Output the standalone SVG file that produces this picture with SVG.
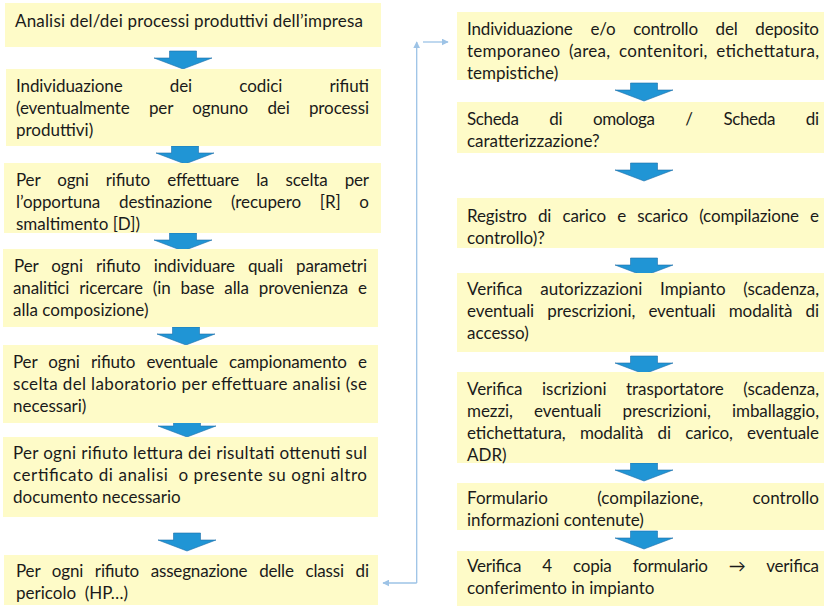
<svg xmlns="http://www.w3.org/2000/svg" width="824" height="606" viewBox="0 0 824 606">
<style>
.box{fill:#FEFBC8;stroke:none}
text{font-family:Lato,"Open Sans","Liberation Sans",sans-serif;font-size:17px;fill:#1a1a1a}
.arr{fill:#2095D5;stroke:#1F6FA9;stroke-width:0.6}
.conn{fill:none;stroke:#9DC3E6;stroke-width:1.3}
</style>
<defs>
<path id="down" d="M-13.5,0 H13.5 V7 H29 L0,18 L-29,7 H-13.5 Z"/>
<marker id="ah" viewBox="0 0 10 10" refX="9" refY="5" markerWidth="7" markerHeight="7" markerUnits="userSpaceOnUse" orient="auto"><path d="M0,0 L10,5 L0,10 Z" fill="#9DC3E6"/></marker>
</defs>
<rect width="824" height="606" fill="#ffffff"/>

<g id="connectors">
<path class="conn" d="M416.7,583 H383" marker-end="url(#ah)"/>
<path class="conn" d="M416.7,583 V42" marker-end="url(#ah)"/>
<path class="conn" d="M423,42 H448" marker-end="url(#ah)"/>
</g>

<g id="flow-arrows">
<use href="#down" class="arr" x="183" y="51"/>
<use href="#down" class="arr" x="185" y="146"/>
<use href="#down" class="arr" x="183" y="233"/>
<use href="#down" class="arr" x="186" y="327"/>
<use href="#down" class="arr" x="187" y="419"/>
<use href="#down" class="arr" x="187" y="533"/>
<use href="#down" class="arr" x="644" y="83"/>
<use href="#down" class="arr" x="644" y="163"/>
<use href="#down" class="arr" x="644" y="258"/>
<use href="#down" class="arr" x="644" y="356"/>
<use href="#down" class="arr" x="644" y="463"/>
<use href="#down" class="arr" x="644" y="531"/>
</g>

<g id="L1"><rect class="box" x="5" y="3" width="376" height="44"/>
<text x="15" y="27" textLength="348" lengthAdjust="spacing">Analisi del/dei processi produttivi dell’impresa</text></g>

<g id="L2"><rect class="box" x="6" y="69" width="375" height="77"/>
<text x="16" y="92" textLength="353" lengthAdjust="spacing" word-spacing="43">Individuazione dei codici rifiuti</text>
<text x="16" y="114" textLength="353" lengthAdjust="spacing" word-spacing="15">(eventualmente per ognuno dei processi</text>
<text x="16" y="136">produttivi)</text></g>

<g id="L3"><rect class="box" x="4" y="163" width="377" height="70"/>
<text x="16" y="186" textLength="353" lengthAdjust="spacing" word-spacing="13">Per ogni rifiuto effettuare la scelta per</text>
<text x="16" y="208" textLength="353" lengthAdjust="spacing" word-spacing="14.5">l’opportuna destinazione (recupero [R] o</text>
<text x="16" y="230">smaltimento [D])</text></g>

<g id="L4"><rect class="box" x="3" y="249" width="375" height="78"/>
<text x="14" y="272" textLength="353" lengthAdjust="spacing" word-spacing="8.8">Per ogni rifiuto individuare quali parametri</text>
<text x="13" y="294" textLength="354" lengthAdjust="spacing" word-spacing="5.7">analitici ricercare (in base alla provenienza e</text>
<text x="13" y="316">alla composizione)</text></g>

<g id="L5"><rect class="box" x="3" y="345" width="375" height="78"/>
<text x="13" y="368" textLength="354" lengthAdjust="spacing" word-spacing="7">Per ogni rifiuto eventuale campionamento e</text>
<text x="13" y="390" textLength="354" lengthAdjust="spacing">scelta del laboratorio per effettuare analisi (se</text>
<text x="13" y="412">necessari)</text></g>

<g id="L6"><rect class="box" x="3" y="437" width="375" height="80"/>
<text x="13" y="459" textLength="354" lengthAdjust="spacing">Per ogni rifiuto lettura dei risultati ottenuti sul</text>
<text x="13" y="481" textLength="354" lengthAdjust="spacing" xml:space="preserve">certificato di analisi  o presente su ogni altro</text>
<text x="13" y="503">documento necessario</text></g>

<g id="L7"><rect class="box" x="4" y="555" width="374" height="50"/>
<text x="16" y="577" textLength="353" lengthAdjust="spacing" word-spacing="7.6">Per ogni rifiuto assegnazione delle classi di</text>
<text x="16" y="599" xml:space="preserve">pericolo  (HP…)</text></g>

<g id="R1"><rect class="box" x="457" y="12" width="367" height="68"/>
<text x="467" y="35" textLength="352" lengthAdjust="spacing" word-spacing="13.5">Individuazione e/o controllo del deposito</text>
<text x="467" y="57" textLength="352" lengthAdjust="spacing" word-spacing="4">temporaneo (area, contenitori, etichettatura,</text>
<text x="467" y="79">tempistiche)</text></g>

<g id="R2"><rect class="box" x="457" y="102" width="367" height="51"/>
<text x="467" y="125" textLength="352" lengthAdjust="spacing" word-spacing="26.8">Scheda di omologa / Scheda di</text>
<text x="467" y="147">caratterizzazione?</text></g>

<g id="R3"><rect class="box" x="457" y="198" width="367" height="50"/>
<text x="467" y="222" textLength="352" lengthAdjust="spacing" word-spacing="7">Registro di carico e scarico (compilazione e</text>
<text x="467" y="244">controllo)?</text></g>

<g id="R4"><rect class="box" x="457" y="273" width="367" height="79"/>
<text x="467" y="295" textLength="352" lengthAdjust="spacing" word-spacing="13.4">Verifica autorizzazioni Impianto (scadenza,</text>
<text x="467" y="317" textLength="352" lengthAdjust="spacing" word-spacing="8.9">eventuali prescrizioni, eventuali modalità di</text>
<text x="467" y="339">accesso)</text></g>

<g id="R5"><rect class="box" x="457" y="372" width="367" height="91"/>
<text x="467" y="395" textLength="352" lengthAdjust="spacing" word-spacing="15.2">Verifica iscrizioni trasportatore (scadenza,</text>
<text x="467" y="417" textLength="352" lengthAdjust="spacing" word-spacing="16.9">mezzi, eventuali prescrizioni, imballaggio,</text>
<text x="467" y="439" textLength="352" lengthAdjust="spacing" word-spacing="10">etichettatura, modalità di carico, eventuale</text>
<text x="467" y="461">ADR)</text></g>

<g id="R6"><rect class="box" x="457" y="483" width="367" height="47"/>
<text x="467" y="504" textLength="352" lengthAdjust="spacing" word-spacing="45">Formulario (compilazione, controllo</text>
<text x="467" y="526">informazioni contenute)</text></g>

<g id="R7"><rect class="box" x="457" y="551" width="367" height="55"/>
<text x="467" y="572" textLength="352" lengthAdjust="spacing" word-spacing="17">Verifica 4 copia formulario → verifica</text>
<text x="467" y="594">conferimento in impianto</text></g>
</svg>
